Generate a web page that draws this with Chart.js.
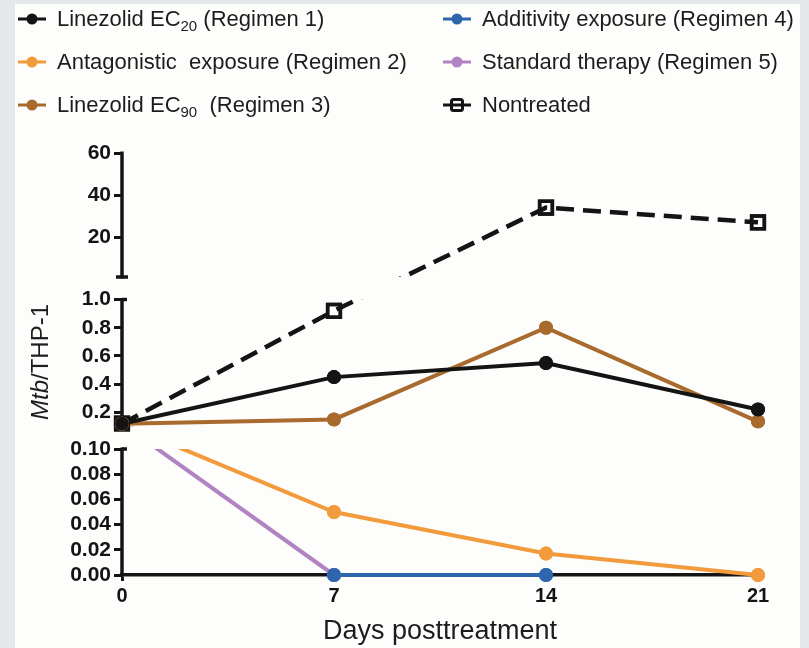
<!DOCTYPE html>
<html>
<head>
<meta charset="utf-8">
<title>Mtb/THP-1 by regimen</title>
<script src="https://cdn.jsdelivr.net/npm/chart.js@4.4.1/dist/chart.umd.min.js"></script>
<style>
  html, body { margin: 0; padding: 0; }
  body {
    width: 809px; height: 648px; position: relative; overflow: hidden;
    background: #e4e8eb;
    font-family: "Liberation Sans", Arial, sans-serif;
  }
  #paper { position: absolute; left: 15px; top: 4px; width: 785px; height: 644px; background: #fdfdfb; }
  #chart { position: absolute; left: 0; top: 0; }
  .item {
    position: absolute; height: 30px; display: flex; align-items: center;
    font-size: 22px; color: #1c1c1c; white-space: pre;
  }
  .item svg { margin-right: 11px; flex: none; }
  .item sub { font-size: 15px; vertical-align: -5px; line-height: 0; }
  #ytitle {
    position: absolute; left: 40px; top: 362px; white-space: nowrap;
    font-size: 24px; color: #1c1c1c;
    transform: translate(-50%, -50%) rotate(-90deg);
  }
</style>
</head>
<body>
<div id="paper"></div>
<canvas id="chart" width="809" height="648"></canvas>
<div id="legend"></div>
<div id="ytitle"><i>Mtb</i>/THP-1</div>

<script>
// Days on the x axis
const days = [0, 7, 14, 21];

// Series names (legend text) and colors
const seriesNames = [
  "Linezolid EC<sub>20</sub> (Regimen 1)",
  "Antagonistic  exposure (Regimen 2)",
  "Linezolid EC<sub>90</sub>  (Regimen 3)",
  "Additivity exposure (Regimen 4)",
  "Standard therapy (Regimen 5)",
  "Nontreated",
];
const seriesColors = ["#141414", "#f29b3d", "#a86b2d", "#2d66ad", "#b283c3", "#141414"];

// Mtb/THP-1 values
const linezolidEC20   = [0.12, 0.45, 0.55, 0.22];
const antagonistic    = [0.12, 0.05, 0.017, 0];
const linezolidEC90   = [0.12, 0.15, 0.80, 0.135];
const additivity      = [null, 0, 0, null];
const standardTherapy = [0.12, 0, null, null];
const nontreated      = [0.12, 0.92, 34, 27];

// Broken y axis: three ranges from bottom to top, with their ticks
const yRanges = [[0, 0.1], [0.1, 1], [1, 60]];
const bottomTicks = [0, 0.02, 0.04, 0.06, 0.08, 0.10];
const middleTicks = [0.2, 0.4, 0.6, 0.8, 1.0];
const topTicks = [20, 40, 60];
const yDecimals = [2, 1, 0];

// Pixel share of each range and the gap between them
const yLayout = { weights: [126, 127, 124], gap: 22.5 };

// Linear scale split into stacked pieces
class BrokenScale extends Chart.LinearScale {
  static id = "broken";
  static defaults = {};

  determineDataLimits() {
    this.min = yRanges[0][0];
    this.max = yRanges[yRanges.length - 1][1];
  }

  buildTicks() {
    const ticks = [];
    [bottomTicks, middleTicks, topTicks].forEach((list, seg) => {
      list.forEach((v) => ticks.push({ value: v, seg: seg }));
    });
    return ticks;
  }

  generateTickLabels(ticks) {
    ticks.forEach((t) => { t.label = t.value.toFixed(yDecimals[t.seg]); });
  }

  bands() {
    const w = yLayout.weights;
    const total = this.bottom - this.top - yLayout.gap * (w.length - 1);
    const sum = w.reduce((a, b) => a + b, 0);
    const out = [];
    let y = this.bottom;
    w.forEach((wt) => {
      const h = total * wt / sum;
      out.push({ lo: y, hi: y - h });
      y -= h + yLayout.gap;
    });
    return out;
  }

  segmentOf(v) {
    for (let i = 0; i < yRanges.length; i++) {
      if (v <= yRanges[i][1]) return i;
    }
    return yRanges.length - 1;
  }

  pixelIn(v, seg) {
    const b = this.bands()[seg];
    const [lo, hi] = yRanges[seg];
    return b.lo - (v - lo) / (hi - lo) * (b.lo - b.hi);
  }

  getPixelForValue(v) {
    return this.pixelIn(v, this.segmentOf(v));
  }

  getPixelForTick(index) {
    const t = this.ticks[index];
    return t ? this.pixelIn(t.value, t.seg) : null;
  }

  getValueForPixel(p) {
    const bands = this.bands();
    for (let i = 0; i < bands.length; i++) {
      if (p <= bands[i].lo && p >= bands[i].hi) {
        const [lo, hi] = yRanges[i];
        return lo + (bands[i].lo - p) / (bands[i].lo - bands[i].hi) * (hi - lo);
      }
    }
    return null;
  }
}
Chart.register(BrokenScale);

// Draws the axis pieces and hides lines inside the gaps
const brokenAxisPlugin = {
  id: "brokenAxis",
  beforeDatasetsDraw(chart) {
    const ctx = chart.ctx;
    const y = chart.scales.y;
    const x0 = chart.scales.x.left;
    const bands = y.bands();

    ctx.save();
    ctx.strokeStyle = "#141414";
    ctx.lineWidth = 3.5;
    bands.forEach((b, i) => {
      ctx.beginPath();
      ctx.moveTo(x0, b.lo + 1.5);
      ctx.lineTo(x0, b.hi - 1.5);
      ctx.stroke();
      if (i > 0) {
        // cap at the bottom of the piece
        ctx.beginPath();
        ctx.moveTo(x0 - 6, b.lo);
        ctx.lineTo(x0 + 6, b.lo);
        ctx.stroke();
      }
      if (i < bands.length - 1) {
        ctx.beginPath();
        ctx.moveTo(x0, b.hi);
        ctx.lineTo(x0 + 5, b.hi);
        ctx.stroke();
      }
    });
    ctx.restore();

    ctx.save();
    ctx.beginPath();
    bands.forEach((b, i) => {
      const top = i === bands.length - 1 ? 0 : b.hi;
      const bottom = i === 0 ? chart.height : b.lo;
      ctx.rect(0, top, chart.width, bottom - top);
    });
    ctx.clip();
  },
  afterDatasetsDraw(chart) {
    chart.ctx.restore();
    const area = { left: -1e4, top: -1e4, right: 1e4, bottom: 1e4 };
    const metas = chart.getSortedVisibleDatasetMetas();
    for (let i = metas.length - 1; i >= 0; i--) {
      metas[i].data.forEach((p) => p.draw(chart.ctx, area));
    }
  },
};

function makeSeries(values, i) {
  const dashed = i === 5;
  return {
    label: seriesNames[i].replace(/<[^>]+>/g, ""),
    data: days.map((d, k) => ({ x: d, y: values[k] })),
    borderColor: seriesColors[i],
    backgroundColor: dashed ? "rgba(0,0,0,0)" : seriesColors[i],
    pointBorderColor: seriesColors[i],
    borderWidth: dashed ? 4.5 : 4,
    borderDash: dashed ? [18, 9] : [],
    pointStyle: dashed ? "rect" : "circle",
    pointRadius: dashed ? 9 : 7,
    pointBorderWidth: dashed ? 3.5 : 0,
    tension: 0,
    clip: false,
  };
}

const allSeries = [linezolidEC20, antagonistic, linezolidEC90, additivity, standardTherapy, nontreated];

const tickFont = { family: "'Liberation Sans', Arial, sans-serif", weight: "bold", size: 21 };

new Chart(document.getElementById("chart").getContext("2d"), {
  type: "line",
  data: { datasets: allSeries.map(makeSeries) },
  options: {
    responsive: false,
    animation: false,
    layout: { padding: { left: 0, right: 51, top: 153, bottom: 0 } },
    plugins: { legend: { display: false }, tooltip: { enabled: false } },
    scales: {
      x: {
        type: "linear",
        min: 0,
        max: 21,
        ticks: { stepSize: 7, font: { ...tickFont, size: 20 }, color: "#141414", padding: 3 },
        grid: { drawOnChartArea: false, tickLength: 6, tickWidth: 3, tickColor: "#141414" },
        border: { display: true, color: "#141414", width: 3.5 },
        title: {
          display: true,
          text: "Days posttreatment",
          color: "#1c1c1c",
          font: { family: "'Liberation Sans', Arial, sans-serif", size: 27 },
          padding: 0,
        },
        afterFit: (s) => { s.height = 73; },
      },
      y: {
        type: "broken",
        position: "left",
        ticks: { autoSkip: false, font: tickFont, color: "#141414", padding: 3 },
        grid: { drawOnChartArea: false, tickLength: 8, tickWidth: 3, tickColor: "#141414" },
        border: { display: false },
        afterFit: (s) => { s.width = 122; },
      },
    },
  },
  plugins: [brokenAxisPlugin],
});

// Legend in two columns, as in the figure
const legendEl = document.getElementById("legend");
const legendRows = [19, 62, 105];
seriesNames.forEach((name, i) => {
  const color = seriesColors[i];
  const item = document.createElement("div");
  item.className = "item";
  item.style.left = (i < 3 ? 18 : 443) + "px";
  item.style.top = (legendRows[i % 3] - 15) + "px";
  const mark = i === 5
    ? `<rect x="8.5" y="1.5" width="11" height="11" rx="2" fill="none" stroke="${color}" stroke-width="3"/>`
    : `<circle cx="14" cy="7" r="5.5" fill="${color}"/>`;
  item.innerHTML =
    `<svg width="28" height="14"><line x1="0" y1="7" x2="28" y2="7" stroke="${color}" stroke-width="3"/>${mark}</svg>` +
    `<span>${name}</span>`;
  legendEl.appendChild(item);
});
</script>
</body>
</html>
